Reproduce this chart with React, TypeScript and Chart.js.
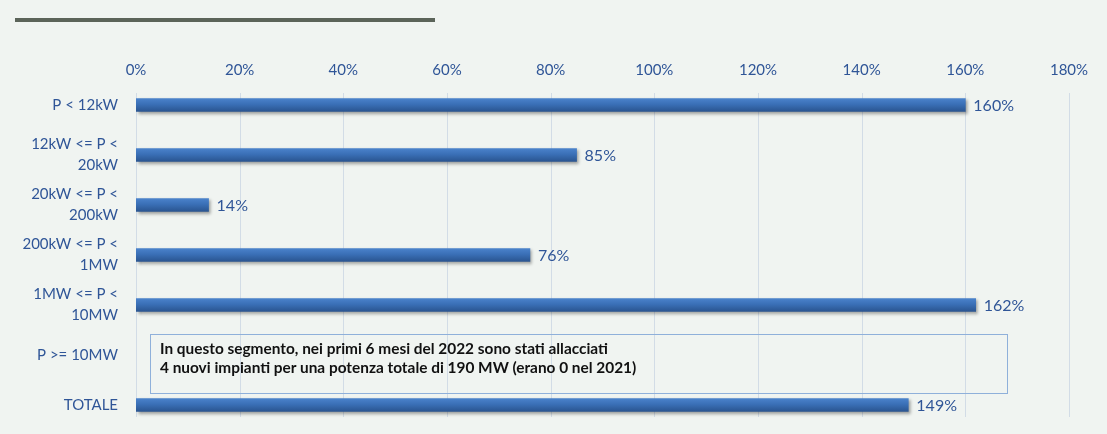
import React, { useEffect, useRef } from "react";
import { Chart, registerables } from "chart.js";

Chart.register(...registerables);

const categories: (string | string[])[] = [
  "P < 12kW",
  ["12kW <= P <", "20kW"],
  ["20kW <= P <", "200kW"],
  ["200kW <= P <", "1MW"],
  ["1MW <= P <", "10MW"],
  "P >= 10MW",
  "TOTALE",
];
const growthPct: (number | null)[] = [160, 85, 14, 76, 162, null, 149];
const xTicks = [0, 20, 40, 60, 80, 100, 120, 140, 160, 180];
const noteLines = [
  "In questo segmento, nei primi 6 mesi del 2022 sono stati allacciati",
  "4 nuovi impianti per una potenza totale di 190 MW (erano 0 nel 2021)",
];

const BG = "#f0f4f1";
const BLUE_TEXT = "#2f5597";
const FONT = "Lato, 'Open Sans', sans-serif";

export default function App() {
  const ref = useRef<HTMLCanvasElement | null>(null);

  useEffect(() => {
    document.body.style.margin = "0";
    document.body.style.background = BG;
    const canvas = ref.current!;
    const gridPlugin = {
      id: "gridCustom",
      beforeDatasetsDraw(chart: any) {
        const ctx = chart.ctx;
        const xs = chart.scales.x;
        ctx.save();
        ctx.strokeStyle = "#d2dce6";
        ctx.lineWidth = 1;
        xTicks.forEach((t) => {
          const px = Math.round(xs.getPixelForValue(t)) + 0.5;
          ctx.beginPath();
          ctx.moveTo(px, 93);
          ctx.lineTo(px, 417);
          ctx.stroke();
        });
        ctx.restore();
        const meta = chart.getDatasetMeta(0);
        meta.data.forEach((el: any) => {
          const h = 13;
          const g = ctx.createLinearGradient(0, el.y - h / 2, 0, el.y + h / 2);
          g.addColorStop(0, "#4a82cb");
          g.addColorStop(0.45, "#3a6fb6");
          g.addColorStop(1, "#2a5590");
          el.options = Object.assign({}, el.options, { backgroundColor: g });
        });
      },
      beforeDatasetDraw(chart: any) {
        const ctx = chart.ctx;
        ctx.save();
        ctx.shadowColor = "rgba(0,0,0,0.35)";
        ctx.shadowOffsetX = 2;
        ctx.shadowOffsetY = 2;
        ctx.shadowBlur = 3;
      },
      afterDatasetDraw(chart: any) {
        chart.ctx.restore();
      },
      afterDatasetsDraw(chart: any) {
        const ctx = chart.ctx;
        const meta = chart.getDatasetMeta(0);
        ctx.save();
        ctx.fillStyle = BLUE_TEXT;
        ctx.font = `16px ${FONT}`;
        ctx.textBaseline = "middle";
        ctx.textAlign = "left";
        meta.data.forEach((el: any, i: number) => {
          const v = growthPct[i];
          if (v == null) return;
          ctx.fillText(`${v}%`, el.x + 8, el.y + 1);
        });
        ctx.restore();
      },
    };

    const chart = new Chart(canvas, {
      type: "bar",
      data: {
        labels: categories,
        datasets: [
          {
            data: growthPct,
            backgroundColor: () => "#3a6fb6",
            barThickness: 13,
            borderWidth: 0,
          },
        ],
      },
      options: {
        indexAxis: "y",
        animation: false,
        responsive: false,
        maintainAspectRatio: false,
        layout: { padding: { top: 50, right: 38, left: 0, bottom: 4 } },
        plugins: { legend: { display: false }, tooltip: { enabled: false } },
        scales: {
          x: {
            position: "top",
            min: 0,
            max: 180,
            afterBuildTicks(scale: any) {
              scale.ticks = xTicks.map((v) => ({ value: v }));
            },
            afterFit(scale: any) {
              scale.height = 30;
              scale.paddingLeft = 0;
              scale.paddingRight = 0;
            },
            grid: { display: false, drawTicks: false },
            border: { display: false },
            ticks: {
              color: BLUE_TEXT,
              font: { family: FONT, size: 15 },
              padding: 1,
              callback: (v: any) => `${v}%`,
            },
          },
          y: {
            afterFit(scale: any) {
              scale.width = 136;
              scale.paddingTop = 0;
              scale.paddingBottom = 0;
            },
            grid: { display: false, drawTicks: false },
            border: { display: false },
            ticks: {
              color: BLUE_TEXT,
              font: { family: FONT, size: 15, lineHeight: 1.4 },
              padding: 18,
            },
          },
        },
      },
      plugins: [gridPlugin],
    });
    return () => chart.destroy();
  }, []);

  return (
    <div style={{ position: "relative", width: 1107, height: 434, background: BG, overflow: "hidden" }}>
      <div
        style={{
          position: "absolute",
          left: 15,
          top: 18,
          width: 420,
          height: 4,
          background: "#5b6459",
        }}
      />
      <canvas ref={ref} width={1107} height={434} style={{ position: "absolute", left: 0, top: 0 }} />
      <div
        style={{
          position: "absolute",
          left: 150,
          top: 334,
          width: 858,
          height: 60,
          border: "1px solid #8fb0da",
          boxSizing: "border-box",
          fontFamily: FONT,
          fontWeight: 700,
          fontSize: 15.4,
          lineHeight: "19px",
          color: "#111",
          padding: "4px 0 0 9px",
        }}
      >
        {noteLines.map((l, i) => (
          <div key={i}>{l}</div>
        ))}
      </div>
    </div>
  );
}
